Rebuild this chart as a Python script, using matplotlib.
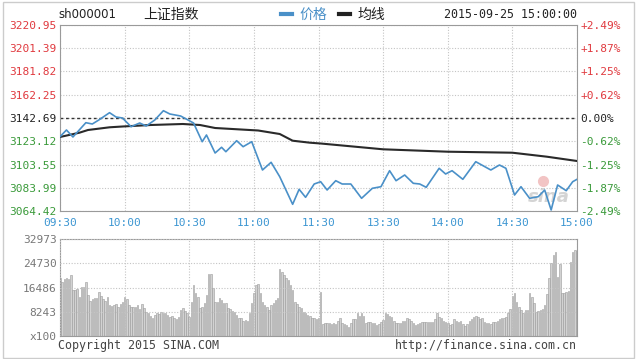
import matplotlib.pyplot as plt
from matplotlib.lines import Line2D
from matplotlib.patches import Rectangle

plt.rcParams['font.family'] = ['DejaVu Sans', 'Noto Sans CJK SC']

# ---------- data ----------
prev_close = 3142.69
price_ticks = [3064.42, 3083.99, 3103.55, 3123.12, 3142.69, 3162.25, 3181.82, 3201.39, 3220.95]
vol_ticks = [0, 8243, 16486, 24730, 32973]
vol_labels = ['x100', '8243', '16486', '24730', '32973']
time_ticks = [0, 30, 60, 90, 120, 150, 180, 210, 240]
time_labels = ['09:30', '10:00', '10:30', '11:00', '11:30', '13:30', '14:00', '14:30', '15:00']

# minute index (0..240) and index value
price_min = [0, 3, 6, 12, 15, 18, 23, 26, 29, 33, 37, 40, 44, 48, 51, 56,
             62, 66, 68, 72, 75, 77, 82, 85, 89, 94, 98, 102, 108, 111, 114,
             118, 121, 124, 128, 131, 135, 140, 145, 149, 153, 156, 160, 164,
             167, 170, 176, 179, 182, 187, 193, 200, 204, 207, 211, 214, 218,
             222, 225, 228, 231, 235, 238, 240]
price_val = [3126.95, 3132.59, 3126.70, 3138.73, 3137.64, 3141.00, 3147.15,
             3143.53, 3142.68, 3135.36, 3138.48, 3135.95, 3141.00, 3148.83,
             3146.05, 3144.37, 3138.48, 3122.74, 3128.38, 3113.23, 3118.03,
             3114.32, 3123.58, 3118.53, 3122.74, 3098.92, 3105.40, 3093.28,
             3070.06, 3082.68, 3075.95, 3087.14, 3089.08, 3082.09, 3089.92,
             3087.14, 3087.14, 3075.11, 3083.52, 3084.87, 3098.34, 3089.92,
             3094.72, 3087.73, 3087.14, 3084.36, 3100.35, 3095.56, 3098.34,
             3091.10, 3105.91, 3098.92, 3103.13, 3100.35, 3077.88, 3084.87,
             3075.11, 3076.45, 3082.09, 3065.26, 3086.30, 3081.50, 3089.08,
             3091.10]

avg_min = [0, 9, 13, 23, 29, 42, 57, 65, 72, 92, 102, 108, 116, 121, 150,
           180, 210, 226, 240]
avg_val = [3126.70, 3130.31, 3132.59, 3134.86, 3135.53, 3136.79, 3137.64,
           3136.79, 3134.27, 3132.17, 3129.22, 3123.58, 3121.90, 3121.23,
           3116.34, 3114.32, 3113.48, 3110.12, 3106.50]

# volume per minute (x100)
volume = [
    19600, 18470, 19260, 19600, 19260, 20730, 15640, 15640, 15860, 13370,
    16540, 16770, 18240, 13940, 12010, 12460, 12800, 12800, 15070,
    13600, 12460, 12010, 13370, 10540, 10200, 10540, 10880, 9970,
    10880, 11670, 13370, 12460, 10540, 9970, 9740, 9970, 10540,
    9060, 10880, 9400, 8270, 7700, 6800, 6000, 7140, 7700, 7480,
    8270, 7930, 7700, 7140, 6570, 6800, 6000, 5670, 6570,
    8840, 9400, 8610, 7700, 6340, 11670, 17330, 14500, 13370,
    9400, 9970, 11100, 13940, 21070, 21070, 16200, 11670, 11670,
    12800, 12240, 11100, 11330, 9400, 9060, 8610, 8270, 7140, 6000,
    6000, 5210, 5440, 5210, 7930, 11100, 14500, 17330, 17670,
    14500, 11670, 10540, 9970, 8840, 10540, 11100, 12240, 12800,
    22660, 21870, 20730, 19600, 19030, 17330, 15640, 11670, 10880,
    9970, 9400, 8270, 7930, 7140, 6800, 6000, 6000, 5700, 6200,
    # afternoon
    15070, 4080, 4530, 4300, 4530, 4080, 4530, 4080, 5210, 6000,
    4530, 4080, 3740, 3170, 4300, 5670, 5670, 7700, 6800, 7930,
    6800, 4530, 4870, 4870, 4530, 4530, 3740, 4080, 4870, 5440,
    7930, 7480, 6800, 6340, 5210, 4530, 4300, 4530, 5210, 5210,
    6000, 5670, 5210, 4530, 3740, 4080, 4530, 4870, 4870, 4870,
    4870, 4870, 4870, 5670, 7930, 6340, 6000, 5210, 4870, 4300,
    3740, 4080, 5670, 5210, 4870, 5210, 4080, 3400, 4080, 5210,
    5670, 6340, 6800, 6340, 5670, 6000, 4870, 4530, 4300, 4080,
    4870, 4870, 5210, 5670, 6000, 6000, 6340, 7700, 9060, 13600,
    14730, 11670, 9740, 8840, 7930, 8840, 8840, 14500, 13140, 11100,
    8270, 8610, 8840, 9060, 10540, 14280, 19600, 24700, 27530, 28660,
    20170, 24470, 14730, 14500, 15070, 15410, 25270, 28660, 29230, 29000,
]

# ---------- colours ----------
blue = '#4a90c8'
red = '#e0393e'
green = '#3a9a3a'
grid_kw = dict(color='#c4c4c4', linestyle=(0, (1, 1.5)), linewidth=0.8)
mono = 'DejaVu Sans Mono'

fig = plt.figure(figsize=(6.4, 3.59), dpi=100)
fig.add_artist(Rectangle((3 / 640, 1 / 359), 631 / 640, 356 / 359,
                         transform=fig.transFigure, fill=False,
                         edgecolor='#cccccc', linewidth=1))

# ---------- price panel ----------
ax = fig.add_axes([60 / 640, 1 - 211 / 359, 517 / 640, 186 / 359])
ax.set_xlim(0, 240)
ax.set_ylim(price_ticks[0], price_ticks[-1])
ax.grid(True, **grid_kw)
ax.axhline(prev_close, color='#333333', linestyle=(0, (2, 2)), linewidth=1, zorder=2)
ax.plot(avg_min, avg_val, color='#2a2a2a', linewidth=1.5, zorder=3)
ax.plot(price_min, price_val, color=blue, linewidth=1.2, zorder=4)

ax.set_yticks(price_ticks, [f'{p:.2f}' for p in price_ticks])
ax.set_xticks(time_ticks, time_labels)
ax.tick_params(length=0, labelsize=8, pad=2.5)
ax.tick_params(axis='x', pad=5)


def side_colour(p):
    if p > prev_close + 0.01:
        return red
    if p < prev_close - 0.01:
        return green
    return '#222222'


for lbl, p in zip(ax.get_yticklabels(), price_ticks):
    lbl.set_family(mono)
    lbl.set_color(side_colour(p))
for lbl in ax.get_xticklabels():
    lbl.set_family(mono)
    lbl.set_color('#3c96d2')
for s in ax.spines.values():
    s.set_color('#9a9a9a')

axr = ax.twinx()
axr.set_ylim(ax.get_ylim())
pct = []
for p in price_ticks:
    v = (p / prev_close - 1) * 100
    pct.append('0.00%' if abs(v) < 0.005 else f'{v:+.2f}%')
axr.set_yticks(price_ticks, pct)
axr.tick_params(length=0, labelsize=8, pad=2.5)
for lbl, p in zip(axr.get_yticklabels(), price_ticks):
    lbl.set_family(mono)
    lbl.set_color(side_colour(p))
for s in axr.spines.values():
    s.set_visible(False)

# sina watermark
ax.text(0.945, 0.075, 'sina', transform=ax.transAxes, color='#d4d4d4',
        fontsize=13, style='italic', weight='bold', ha='center', va='center', zorder=1)
ax.plot([0.935], [0.16], transform=ax.transAxes, marker='o', markersize=7,
        color='#f2c4c4', zorder=1)

# ---------- volume panel ----------
axv = fig.add_axes([60 / 640, 1 - 336 / 359, 517 / 640, 97 / 359])
axv.bar(range(len(volume)), volume, width=0.7, color='#d2d2d2',
        edgecolor='#9a9a9a', linewidth=0.4, zorder=1)
axv.set_xlim(0, 240)
axv.set_ylim(0, vol_ticks[-1])
axv.set_xticks(time_ticks, [])
axv.set_yticks(vol_ticks, vol_labels)
axv.grid(True, **grid_kw)
axv.set_axisbelow(False)
axv.tick_params(length=0, labelsize=8, pad=2.5)
for lbl in axv.get_yticklabels():
    lbl.set_family(mono)
    lbl.set_color('#777777')
for s in axv.spines.values():
    s.set_color('#9a9a9a')

# ---------- header / footer texts ----------
ty = 1 - 15 / 359
fig.text(58 / 640, ty, 'sh000001', fontsize=8.5, va='center', ha='left', color='#222222')
fig.text(143 / 640, ty, '上证指数', fontsize=10, va='center', ha='left',
         family=['Noto Sans CJK SC', 'DejaVu Sans'], color='#222222')
handles = [Line2D([], [], color=blue, linewidth=3),
           Line2D([], [], color='#222222', linewidth=3)]
fig.legend(handles, ['价格', '均线'], loc='center left',
           bbox_to_anchor=(281 / 640, ty), ncol=2, frameon=False,
           handlelength=0.8, handletextpad=0.5, columnspacing=0.9,
           labelcolor='linecolor', borderaxespad=0, borderpad=0,
           prop={'family': ['Noto Sans CJK SC', 'DejaVu Sans'], 'size': 10})
fig.text(577 / 640, ty, '2015-09-25 15:00:00', fontsize=8.4, va='center',
         ha='right', family=mono, color='#222222')

by = 1 - 346 / 359
fig.text(58 / 640, by, 'Copyright 2015 SINA.COM', fontsize=8.4, va='center',
         ha='left', family=mono, color='#444444')
fig.text(577 / 640, by, 'http://finance.sina.com.cn', fontsize=8.4, va='center',
         ha='right', family=mono, color='#444444')

fig.savefig('out.png', dpi=100)
